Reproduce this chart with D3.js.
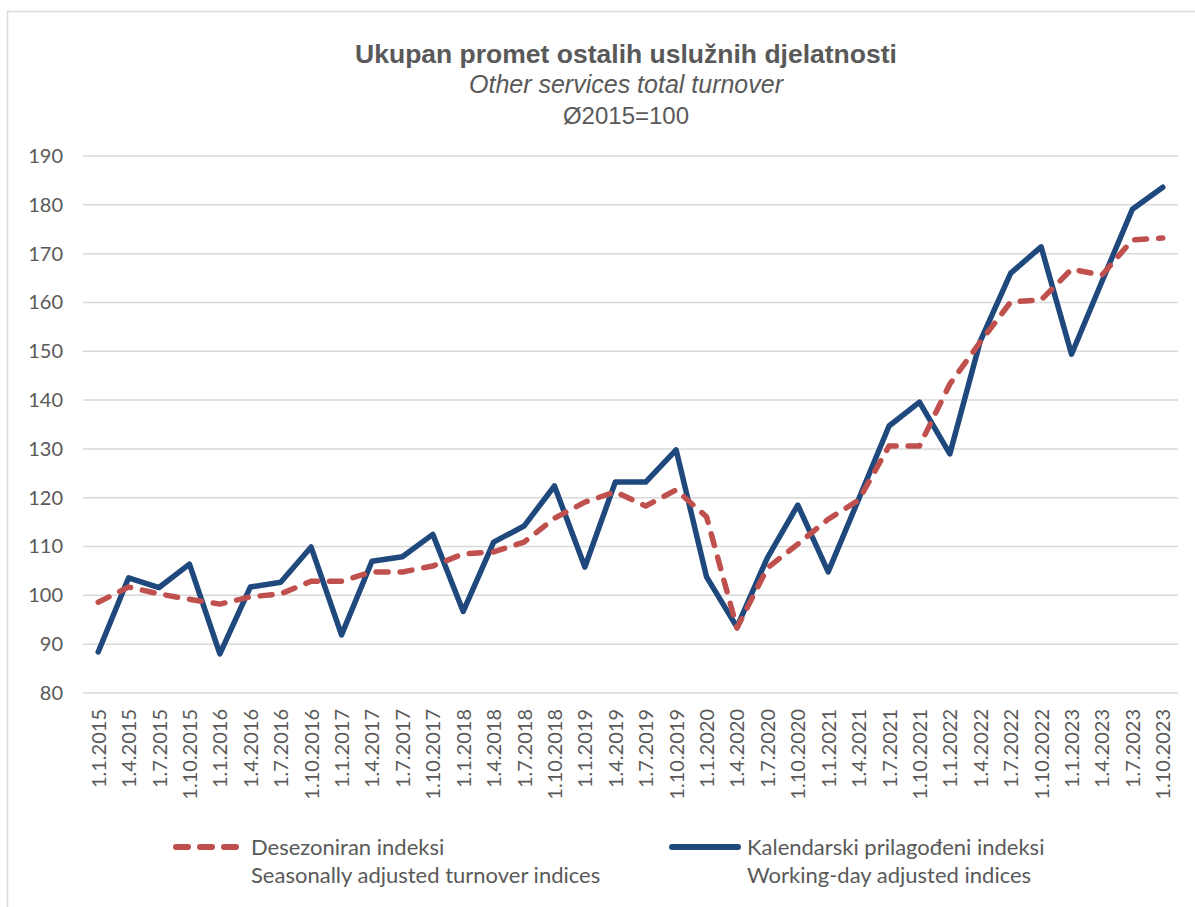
<!DOCTYPE html>
<html>
<head>
<meta charset="utf-8">
<script src="https://cdn.jsdelivr.net/npm/d3@7"></script>
<style>
  body { margin: 0; background: #fff; }
  svg { display: block; }
</style>
</head>
<body>
<div id="chart"></div>
<script>
// quarterly indices, Ø2015 = 100
const quarters = [
  "1.1.2015", "1.4.2015", "1.7.2015", "1.10.2015",
  "1.1.2016", "1.4.2016", "1.7.2016", "1.10.2016",
  "1.1.2017", "1.4.2017", "1.7.2017", "1.10.2017",
  "1.1.2018", "1.4.2018", "1.7.2018", "1.10.2018",
  "1.1.2019", "1.4.2019", "1.7.2019", "1.10.2019",
  "1.1.2020", "1.4.2020", "1.7.2020", "1.10.2020",
  "1.1.2021", "1.4.2021", "1.7.2021", "1.10.2021",
  "1.1.2022", "1.4.2022", "1.7.2022", "1.10.2022",
  "1.1.2023", "1.4.2023", "1.7.2023", "1.10.2023"
];

const seasonallyAdjusted = [
  98.6, 101.7, 100.3, 99.2, 98.2, 99.7, 100.3, 102.9, 102.9, 104.8, 104.8, 106.0,
  108.5, 108.9, 110.9, 115.8, 119.1, 121.2, 118.3, 121.6, 116.1, 93.3, 105.6, 110.5,
  115.6, 119.5, 130.6, 130.6, 143.3, 151.9, 160.1, 160.5, 166.8, 165.6, 172.8, 173.2
];

const workingDayAdjusted = [
  88.4, 103.6, 101.6, 106.4, 88.0, 101.7, 102.7, 109.9, 91.9, 107.0, 107.9, 112.5,
  96.7, 110.9, 114.2, 122.4, 105.8, 123.2, 123.2, 129.8, 103.8, 93.5, 107.7, 118.5,
  104.8, 119.7, 134.7, 139.6, 129.0, 152.1, 166.0, 171.4, 149.4, 164.3, 179.1, 183.6
];

const yTicks = [80, 90, 100, 110, 120, 130, 140, 150, 160, 170, 180, 190];

const titleLines = [
  "Ukupan promet ostalih uslužnih djelatnosti",
  "Other services total turnover",
  "Ø2015=100"
];

const legendItems = [
  { name: "Desezoniran indeksi", sub: "Seasonally adjusted turnover indices", color: "#C0504D", dashed: true },
  { name: "Kalendarski prilagođeni indeksi", sub: "Working-day adjusted indices", color: "#1F497D", dashed: false }
];

const W = 1195, H = 907;
const plot = { left: 83, right: 1178, top: 156, bottom: 693 };
const textColor = "#595959";
const axisFont = "Lato, 'Open Sans', sans-serif";
const titleFont = "'Liberation Sans', Arial, sans-serif";

const svg = d3.select("#chart")
  .append("svg")
  .attr("width", W)
  .attr("height", H);

// chart area border
svg.append("rect")
  .attr("x", 7.5).attr("y", 11.5)
  .attr("width", W + 10).attr("height", H + 10)
  .attr("fill", "#fff")
  .attr("stroke", "#D9D9D9")
  .attr("stroke-width", 1.5);

const x = d3.scalePoint()
  .domain(quarters)
  .range([plot.left, plot.right])
  .padding(0.5);

const y = d3.scaleLinear()
  .domain([80, 190])
  .range([plot.bottom, plot.top]);

// title
const title = svg.append("g").attr("fill", textColor).attr("text-anchor", "middle");
title.append("text")
  .attr("x", 626).attr("y", 63)
  .style("font", `bold 26.5px ${titleFont}`)
  .text(titleLines[0]);
title.append("text")
  .attr("x", 626).attr("y", 93)
  .style("font", `italic 25px ${titleFont}`)
  .text(titleLines[1]);
title.append("text")
  .attr("x", 626).attr("y", 124)
  .style("font", `24px ${titleFont}`)
  .text(titleLines[2]);

// gridlines
svg.append("g")
  .selectAll("line")
  .data(yTicks)
  .join("line")
  .attr("x1", plot.left).attr("x2", plot.right)
  .attr("y1", d => y(d)).attr("y2", d => y(d))
  .attr("stroke", "#D9D9D9")
  .attr("stroke-width", 1.5);

// y axis labels
const yAxis = svg.append("g")
  .attr("transform", `translate(${plot.left - 20},0)`)
  .call(d3.axisLeft(y).tickValues(yTicks).tickSize(0).tickPadding(0));
yAxis.select(".domain").remove();
yAxis.selectAll("text")
  .attr("fill", textColor)
  .style("font-family", axisFont)
  .style("font-size", "20px");

// x axis labels (rotated)
const xAxis = svg.append("g")
  .attr("transform", `translate(0,${plot.bottom})`)
  .call(d3.axisBottom(x).tickSize(0).tickPadding(0));
xAxis.select(".domain").remove();
xAxis.selectAll("text")
  .attr("fill", textColor)
  .style("font-family", axisFont)
  .style("font-size", "20px")
  .attr("transform", "rotate(-90)")
  .attr("x", -16)
  .attr("y", 0)
  .attr("dy", "0.35em")
  .attr("text-anchor", "end");

// lines
const line = d3.line()
  .x((d, i) => x(quarters[i]))
  .y(d => y(d));

svg.append("path")
  .datum(workingDayAdjusted)
  .attr("fill", "none")
  .attr("stroke", "#1F497D")
  .attr("stroke-width", 5.5)
  .attr("stroke-linejoin", "round")
  .attr("stroke-linecap", "round")
  .attr("d", line);

svg.append("path")
  .datum(seasonallyAdjusted)
  .attr("fill", "none")
  .attr("stroke", "#C0504D")
  .attr("stroke-width", 5.5)
  .attr("stroke-dasharray", "12,12")
  .attr("stroke-linejoin", "round")
  .attr("stroke-linecap", "round")
  .attr("d", line);

// legend
const legendX = [176, 672];
const legend = svg.append("g")
  .selectAll("g")
  .data(legendItems)
  .join("g")
  .attr("transform", (d, i) => `translate(${legendX[i]},847)`);

legend.append("line")
  .attr("x1", 0).attr("x2", d => d.dashed ? 62 : 66)
  .attr("y1", 0).attr("y2", 0)
  .attr("stroke", d => d.color)
  .attr("stroke-width", 6)
  .attr("stroke-linecap", "round")
  .attr("stroke-dasharray", d => d.dashed ? "12,12" : null);

legend.append("text")
  .attr("x", 75)
  .attr("y", 0)
  .attr("dy", "0.35em")
  .attr("fill", textColor)
  .style("font-family", axisFont)
  .style("font-size", "22px")
  .text(d => d.name);

legend.append("text")
  .attr("x", 75)
  .attr("y", 28)
  .attr("dy", "0.35em")
  .attr("fill", textColor)
  .style("font-family", axisFont)
  .style("font-size", "22px")
  .text(d => d.sub);
</script>
</body>
</html>
